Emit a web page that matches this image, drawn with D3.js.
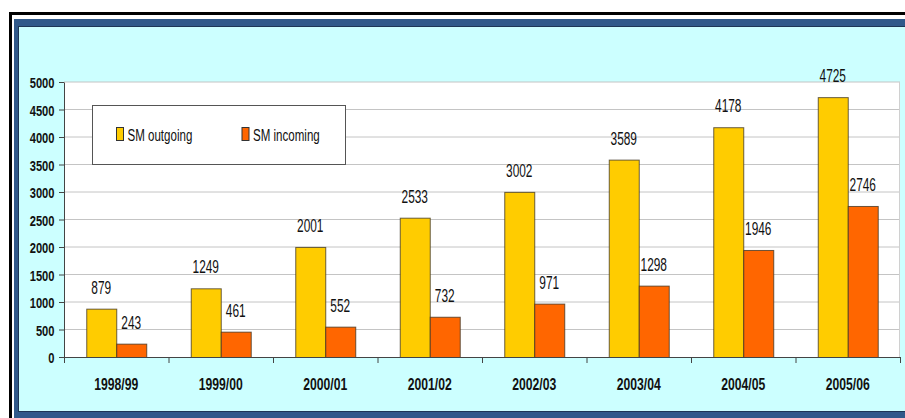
<!DOCTYPE html>
<html>
<head>
<meta charset="utf-8">
<script src="https://cdn.jsdelivr.net/npm/d3@7"></script>
<style>
  html, body { margin: 0; padding: 0; background: #fff; overflow: hidden; }
  svg { display: block; font-family: "Liberation Sans", Arial, sans-serif; }
</style>
</head>
<body>
<div id="chart"></div>
<script>
const years = ["1998/99", "1999/00", "2000/01", "2001/02", "2002/03", "2003/04", "2004/05", "2005/06"]
const outgoing = [879, 1249, 2001, 2533, 3002, 3589, 4178, 4725]
const incoming = [243, 461, 552, 732, 971, 1298, 1946, 2746]
const seriesNames = ["SM outgoing", "SM incoming"]
const seriesColors = ["#ffcc00", "#ff6600"]
const yTicks = d3.range(0, 5001, 500)

const width = 905, height = 418
const plot = { left: 64, right: 900, top: 82, bottom: 357 }
const squeeze = 0.72 // text looks horizontally condensed

const svg = d3.select("#chart").append("svg")
  .attr("width", width)
  .attr("height", height)
  .attr("viewBox", [0, 0, width, height])

// frame: black outline, blue border, cyan panel
svg.append("rect").attr("width", width).attr("height", height).attr("fill", "#fff")
svg.append("rect")
  .attr("x", 10.5).attr("y", 13.5).attr("width", width + 20).attr("height", height + 20)
  .attr("fill", "none").attr("stroke", "#000").attr("stroke-width", 3)
svg.append("rect")
  .attr("x", 14).attr("y", 19).attr("width", width).attr("height", height)
  .attr("fill", "#30598a")
svg.append("rect")
  .attr("x", 18).attr("y", 26).attr("width", width).attr("height", 386)
  .attr("fill", "#1d3656")
svg.append("rect")
  .attr("x", 19).attr("y", 27).attr("width", width).attr("height", 384)
  .attr("fill", "#ccffff")

// plot area
svg.append("rect")
  .attr("x", plot.left).attr("y", plot.top)
  .attr("width", plot.right - plot.left).attr("height", plot.bottom - plot.top)
  .attr("fill", "#fff")

const x = d3.scaleBand().domain(years).range([plot.left, plot.right])
const y = d3.scaleLinear().domain([0, 5000]).range([plot.bottom, plot.top])
const barW = 30

// gridlines
svg.append("g")
  .selectAll("line")
  .data(yTicks.filter(d => d > 0))
  .join("line")
  .attr("x1", plot.left).attr("x2", plot.right)
  .attr("y1", d => y(d)).attr("y2", d => y(d))
  .attr("stroke", "#c4c4c4")
svg.append("line")
  .attr("x1", plot.right - 0.5).attr("x2", plot.right - 0.5)
  .attr("y1", plot.top).attr("y2", plot.bottom)
  .attr("stroke", "#d0d0d0")

// bars
const series = [outgoing, incoming]
series.forEach((vals, s) => {
  svg.append("g")
    .selectAll("rect")
    .data(years)
    .join("rect")
    .attr("x", (d, i) => x(d) + x.bandwidth() / 2 - barW + s * barW + 0.5)
    .attr("y", (d, i) => y(vals[i]) + 0.5)
    .attr("width", barW)
    .attr("height", (d, i) => y(0) - y(vals[i]))
    .attr("fill", seriesColors[s])
    .attr("stroke", "#3a3020")
    .attr("stroke-opacity", 0.75)

  svg.append("g")
    .selectAll("text")
    .data(years)
    .join("text")
    .attr("transform", (d, i) =>
      `translate(${x(d) + x.bandwidth() / 2 - barW / 2 + s * barW},${y(vals[i]) - 15}) scale(0.66,1)`)
    .attr("text-anchor", "middle")
    .attr("font-size", 18)
    .attr("fill", "#111")
    .text((d, i) => vals[i])
})

// y axis
svg.append("g")
  .attr("transform", `translate(${plot.left},0)`)
  .call(d3.axisLeft(y).tickValues(yTicks).tickFormat(d3.format("d")).tickSize(5).tickSizeOuter(0))
  .call(g => g.select(".domain").attr("stroke", "#444"))
  .call(g => g.selectAll(".tick line").attr("stroke", "#444"))
  .call(g => g.selectAll(".tick text")
    .attr("x", 0).attr("dy", "0.36em")
    .attr("transform", `translate(-9.5,0) scale(${squeeze},1)`)
    .attr("font-size", 15.5).attr("font-weight", "bold").attr("fill", "#111"))

// x axis: boundary ticks + category labels
const xEdge = d3.scaleLinear().domain([0, years.length]).range([plot.left, plot.right])
svg.append("g")
  .attr("transform", `translate(0,${plot.bottom})`)
  .call(d3.axisBottom(xEdge).tickValues(d3.range(0, years.length + 1)).tickFormat("").tickSize(6).tickSizeOuter(0))
  .call(g => g.selectAll(".domain, .tick line").attr("stroke", "#444"))
svg.append("g")
  .attr("transform", `translate(0,${plot.bottom})`)
  .call(d3.axisBottom(x).tickSize(0))
  .call(g => g.select(".domain").remove())
  .call(g => g.selectAll(".tick text")
    .attr("y", 0).attr("dy", 0)
    .attr("transform", `translate(0,33) scale(0.74,1)`)
    .attr("font-size", 16.5).attr("font-weight", "bold").attr("fill", "#111"))

// legend
const legend = svg.append("g")
legend.append("rect")
  .attr("x", 92.5).attr("y", 105.5).attr("width", 253).attr("height", 59)
  .attr("fill", "#fff").attr("stroke", "#555")
const legendX = [116, 241.5]
seriesNames.forEach((name, i) => {
  legend.append("rect")
    .attr("x", legendX[i] + 0.5).attr("y", 127.5).attr("width", 7).attr("height", 13)
    .attr("fill", seriesColors[i]).attr("stroke", "#333")
  legend.append("text")
    .attr("transform", `translate(${legendX[i] + 11.5},140.5) scale(0.7,1)`)
    .attr("font-size", 16.5).attr("fill", "#111")
    .text(name)
})
</script>
</body>
</html>
